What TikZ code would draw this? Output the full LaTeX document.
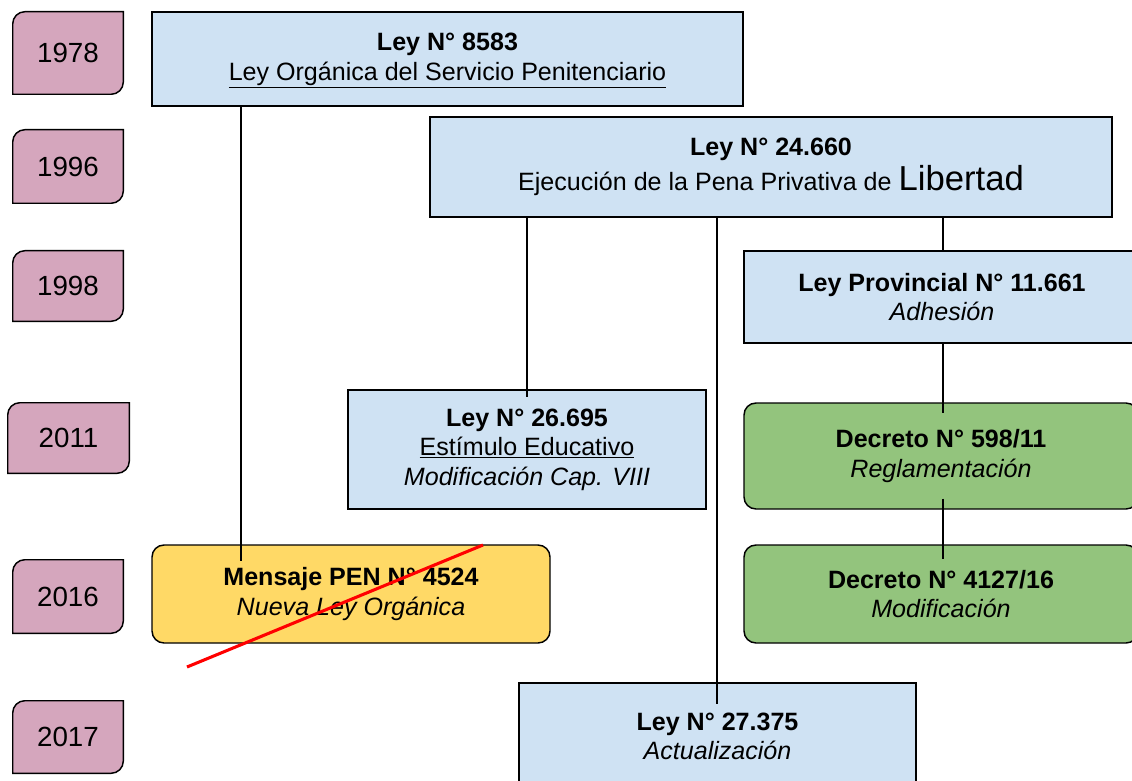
\documentclass[tikz,border=0pt]{standalone}
\usepackage{fontspec}
\setmainfont{Liberation Sans}
\usetikzlibrary{calc,backgrounds}
\definecolor{lblue}{HTML}{CFE2F3}
\definecolor{ypink}{HTML}{D5A6BD}
\definecolor{yyellow}{HTML}{FFD966}
\definecolor{ggreen}{HTML}{93C47D}
\begin{document}
\begin{tikzpicture}[x=0.75pt,y=-0.75pt,
  box/.style={draw=black, line width=1.1pt, fill=lblue, inner sep=0pt, align=center,
    font=\fontsize{18.8}{22.2}\selectfont},
  rbox/.style={box, rounded corners=9pt},
  yr/.style={inner sep=0pt, font=\fontsize{20.8}{24}\selectfont},
  yrshape/.style={draw=black, line width=1.1pt, fill=ypink},
  conn/.style={draw=black, line width=1.2pt},
  cross/.style={draw=red, line width=2.3pt}]
\useasboundingbox (0,0) rectangle (1132,781);
\clip (0,0) rectangle (1132,781);

% year nodes
\node[yr, minimum width=110*0.75pt, minimum height=82*0.75pt] (y1978) at (68,53) {1978};
\node[yr, minimum width=110*0.75pt, minimum height=73*0.75pt] (y1996) at (68,166.5) {1996};
\node[yr, minimum width=110*0.75pt, minimum height=70*0.75pt] (y1998) at (68,286) {1998};
\node[yr, minimum width=121*0.75pt, minimum height=70*0.75pt] (y2011) at (68.5,438) {2011};
\node[yr, minimum width=110*0.75pt, minimum height=73*0.75pt] (y2016) at (68,596.5) {2016};
\node[yr, minimum width=110*0.75pt, minimum height=72*0.75pt] (y2017) at (68,737) {2017};
\begin{pgfonlayer}{background}
\foreach \n in {y1978,y1996,y1998,y2011,y2016,y2017}{
  \path[yrshape] ([yshift=-9pt]\n.north west) arc[start angle=180,end angle=90,radius=9pt]
    -- (\n.north east) -- ([yshift=9pt]\n.south east)
    arc[start angle=0,end angle=-90,radius=9pt] -- (\n.south west) -- cycle;
}
\end{pgfonlayer}

% law boxes
\node[box, minimum width=591*0.75pt, minimum height=94*0.75pt, text depth=3pt] (l8583) at (447.5,59)
  {\textbf{Ley N° 8583}\\\underline{Ley Orgánica del Servicio Penitenciario}};
\node[box, minimum width=682*0.75pt, minimum height=100*0.75pt] (l24660) at (771,167)
  {\textbf{Ley N° 24.660}\\[3pt]Ejecución de la Pena Privativa de {\fontsize{26}{26}\selectfont Libertad}};
\node[box, minimum width=396*0.75pt, minimum height=92*0.75pt] (l11661) at (942,297)
  {\textbf{Ley Provincial N° 11.661}\\\textit{Adhesión}};
\node[box, minimum width=358*0.75pt, minimum height=119*0.75pt] (l26695) at (527,449.5)
  {\textbf{Ley N° 26.695}\\\underline{Estímulo Educativo}\\\textit{Modificación Cap. VIII}};
\node[rbox, fill=ggreen, minimum width=394*0.75pt, minimum height=106*0.75pt] (d598) at (941,456)
  {\textbf{Decreto N° 598/11}\\\textit{Reglamentación}};
\node[rbox, fill=yyellow, minimum width=398*0.75pt, minimum height=98*0.75pt] (mensaje) at (351,594)
  {\textbf{Mensaje PEN N° 4524}\\\textit{Nueva Ley Orgánica}};
\node[rbox, fill=ggreen, minimum width=394*0.75pt, minimum height=98*0.75pt] (d4127) at (941,594)
  {\textbf{Decreto N° 4127/16}\\\textit{Modificación}};
\node[box, minimum width=397*0.75pt, minimum height=107*0.75pt] (l27375) at (717.5,736.5)
  {\textbf{Ley N° 27.375}\\\textit{Actualización}};

% connectors
\coordinate (xa) at (241,0);
\coordinate (xb) at (527,0);
\coordinate (xc) at (717,0);
\coordinate (xd) at (943,0);
\draw[conn] (l8583.south -| xa) -- ($(mensaje.north -| xa)+(0,17)$);
\draw[conn] (l24660.south -| xb) -- ($(l26695.north -| xb)+(0,8)$);
\draw[conn] (l24660.south -| xc) -- ($(l27375.north -| xc)+(0,22)$);
\draw[conn] (l24660.south -| xd) -- (l11661.north -| xd);
\draw[conn] (l11661.south -| xd) -- ($(d598.north -| xd)+(0,11)$);
\draw[conn] ($(d598.south -| xd)+(0,-11)$) -- ($(d4127.north -| xd)+(0,15)$);

% red cross-out line
\coordinate (r1) at (187,667);
\coordinate (r2) at (483,545);
\draw[cross] (r1) -- (r2);
\end{tikzpicture}
\end{document}
